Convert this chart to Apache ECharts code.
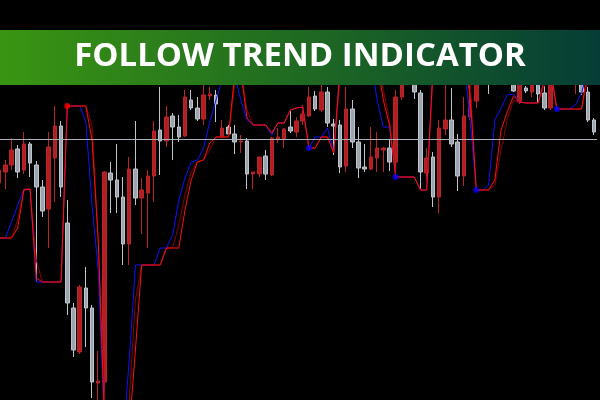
<!DOCTYPE html>
<html><head><meta charset="utf-8">
<script src="https://cdn.jsdelivr.net/npm/echarts@6/dist/echarts.min.js"></script>
<style>html,body{margin:0;padding:0;background:#000;overflow:hidden;width:600px;height:400px;}
#c{position:absolute;left:-4px;top:0;width:604px;height:400px;}</style>
</head><body><div id="c"></div>
<script>
const title = 'FOLLOW TREND INDICATOR';
// OHLC per bar (price units)
const opens  = [217,228,235,251,230,256,235,213,191,242,274,177,92,48,112,92,17,18,227,220,203,156,231,202,207,224,270,259,284,273,264,300,292,281,304,305,263,273,266,258,259,226,226,244,225,261,261,273,268,279,284,304,290,308,276,275,234,291,258,233,231,242,250,252,238,303,335,320,307,227,243,203,271,280,258,224,283,299,325,335,340,330,340,320,298,312,308,316,307,292,345,320,335,320,316,308,280];
const closes = [230,235,250,228,256,237,213,189,253,274,213,97,50,113,92,18,19,228,220,203,156,231,202,210,224,269,259,283,273,263,303,292,281,305,306,296,272,266,258,259,226,228,243,226,262,263,271,269,279,286,303,291,308,277,274,233,291,258,232,231,243,252,252,238,303,322,322,308,228,242,203,272,280,256,224,284,300,325,340,320,325,345,325,309,322,309,318,306,292,325,325,340,322,335,308,280,268];
const highs  = [235,240,262,255,268,258,239,220,268,294,279,200,97,115,133,95,49,229,238,256,223,243,279,222,230,279,313,294,287,285,310,310,303,320,313,310,280,275,275,265,262,228,243,250,263,272,272,290,283,295,313,309,320,313,281,280,313,300,273,256,273,268,253,260,310,330,340,322,310,252,248,280,316,312,266,303,316,330,345,340,345,350,345,325,325,314,320,320,314,330,350,345,340,340,320,313,282];
const lows   = [212,211,230,222,226,223,118,183,152,198,203,85,43,46,53,2,0,0,187,187,135,135,195,166,152,198,225,253,240,258,263,290,279,275,300,278,262,264,246,247,211,211,223,220,224,257,252,267,263,275,283,289,288,273,245,227,228,252,222,228,230,228,228,229,222,300,318,301,210,219,193,187,265,253,209,214,280,292,320,306,320,322,318,308,296,307,303,298,290,290,320,318,318,306,305,278,265];
// indicator lines
const blueLine = [162,162,178,195,211,211,118,118,118,118,118,294,294,294,278,195,130,-25,-40,-40,-40,40,135,135,135,135,152,152,165,200,222,238,240,252,278,300,320,330,325,300,280,275,275,275,265,277,277,290,292,293,252,263,263,272,247,330,340,340,340,340,340,300,273,273,223,223,223,223,210,210,330,340,340,340,340,340,280,210,210,215,280,292,305,306,298,297,297,297,320,330,291,291,291,295,307,330,340];
const darkLine = [162,162,162,180,211,211,140,118,118,118,118,294,294,294,294,275,160,0,-40,-40,-40,0,100,135,135,135,135,152,152,175,205,228,238,240,250,263,263,263,315,330,290,275,275,275,267,277,277,290,292,293,252,252,263,263,247,320,340,340,340,340,340,340,310,280,223,223,223,223,210,210,320,340,340,340,340,340,320,210,210,210,215,250,280,300,298,297,297,297,315,330,291,291,291,291,291,320,340];
const redLine  = [162,162,162,172,210,211,122,118,118,118,118,294,294,294,294,260,160,-20,-40,-40,-40,-30,50,135,135,135,135,152,152,152,190,220,238,240,257,263,263,263,325,330,282,275,275,275,267,277,277,290,292,293,252,252,263,263,247,330,340,340,340,340,340,340,300,275,223,223,223,223,210,210,330,340,340,340,340,340,305,210,210,210,220,270,288,304,298,297,297,297,320,330,291,291,291,291,291,330,340];
const redDotBars = [11];
const redDotValues = [294];
const blueDotBars = [50, 64, 77, 90];
const blueDotValues = [252, 223, 210, 291];
const levelLine = 261;

const categories = opens.map((_, i) => 'Bar ' + (i + 1));
const candleData = opens.map((o, i) => [o, closes[i], lows[i], highs[i]]);

const chart = echarts.init(document.getElementById('c'), null, {renderer: 'canvas'});
chart.setOption({
  animation: false,
  backgroundColor: '#000000',
  grid: {left: 0, right: 2.9, top: 0, bottom: 0},
  xAxis: {type: 'category', data: categories, show: false, boundaryGap: true},
  yAxis: {type: 'value', min: 0, max: 400, show: false},
  series: [
    {
      type: 'candlestick', data: candleData, barWidth: 4, z: 2,
      itemStyle: {color: '#b21f22', color0: '#9ca4ae', borderColor: '#b82428', borderColor0: '#bfc5cc', borderWidth: 1},
      markLine: {silent: true, symbol: 'none', label: {show: false},
        lineStyle: {color: '#aab1bd', width: 1, type: 'solid'},
        data: [{yAxis: levelLine}]}
    },
    {type: 'line', data: blueLine, showSymbol: false, z: 3, lineStyle: {color: '#1010ff', width: 1}},
    {type: 'line', data: darkLine, showSymbol: false, z: 3, lineStyle: {color: '#8a0000', width: 1}},
    {type: 'line', data: redLine, showSymbol: false, z: 4, lineStyle: {color: '#ff1010', width: 1}},
    {type: 'scatter', data: redDotBars.map((b, i) => [b, redDotValues[i]]), symbolSize: 6, z: 5, itemStyle: {color: '#ff0000'}},
    {type: 'scatter', data: blueDotBars.map((b, i) => [b, blueDotValues[i]]), symbolSize: 6, z: 5, itemStyle: {color: '#0000ff'}}
  ],
  graphic: [
    {type: 'rect', z: 100, shape: {x: 0, y: 0, width: 604, height: 30}, style: {fill: '#000000'}},
    {type: 'rect', z: 100, shape: {x: 4, y: 30, width: 600, height: 55},
      style: {fill: new echarts.graphic.LinearGradient(0, 0, 1, 0, [
        {offset: 0, color: '#3a9512'}, {offset: 0.5, color: '#1f6a22'}, {offset: 1, color: '#053d36'}])}},
    {type: 'rect', z: 100, shape: {x: 0, y: 30, width: 4, height: 55}, style: {fill: '#3a9512'}},
    {type: 'text', z: 101, x: 304, y: 57,
      style: {text: title, fill: '#ffffff', fontSize: 33, fontWeight: 'bold', fontFamily: 'Open Sans',
        textAlign: 'center', textVerticalAlign: 'middle'}}
  ]
});
</script></body></html>
